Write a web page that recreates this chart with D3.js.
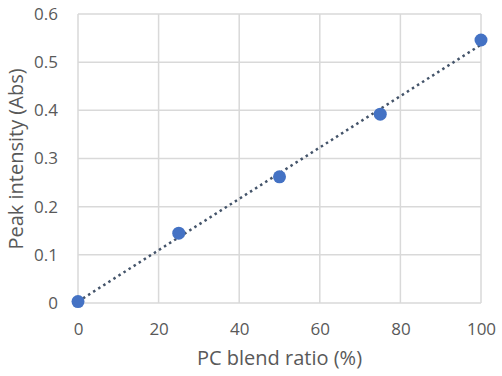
<!DOCTYPE html>
<html>
<head>
<meta charset="utf-8">
<script src="https://cdn.jsdelivr.net/npm/d3@7"></script>
<style>
  body { margin: 0; background: #fff; }
  svg text { font-family: "Open Sans", sans-serif; fill: #595959; }
</style>
</head>
<body>
<svg width="502" height="376"></svg>
<script>
const blendRatio = [0, 25, 50, 75, 100];
const peakIntensity = [0.003, 0.145, 0.262, 0.392, 0.546];
const xTicks = [0, 20, 40, 60, 80, 100];
const yTicks = [0, 0.1, 0.2, 0.3, 0.4, 0.5, 0.6];

const svg = d3.select('svg');
const plotLeft = 78, plotRight = 481, plotTop = 14, plotBottom = 303;
const pointColor = '#4472c4';
const lineColor = '#44546a';
const gridColor = '#d9d9d9';

const xScale = d3.scaleLinear().domain([0, 100]).range([plotLeft, plotRight]);
const yScale = d3.scaleLinear().domain([0, 0.6]).range([plotBottom, plotTop]);

// gridlines
svg.append('g')
  .selectAll('line')
  .data(yTicks)
  .enter()
  .append('line')
  .attr('x1', plotLeft)
  .attr('x2', plotRight)
  .attr('y1', d => yScale(d))
  .attr('y2', d => yScale(d))
  .attr('stroke', gridColor)
  .attr('stroke-width', 1.5);

svg.append('g')
  .selectAll('line')
  .data(xTicks)
  .enter()
  .append('line')
  .attr('x1', d => xScale(d))
  .attr('x2', d => xScale(d))
  .attr('y1', plotTop)
  .attr('y2', plotBottom)
  .attr('stroke', gridColor)
  .attr('stroke-width', 1.5);

// axis labels only, no domain lines
const yAxis = d3.axisLeft(yScale).tickValues(yTicks).tickSize(0).tickPadding(20)
  .tickFormat(d => d === 0 ? '0' : d3.format('.1f')(d));
const xAxis = d3.axisBottom(xScale).tickValues(xTicks).tickSize(0).tickPadding(20)
  .tickFormat(d3.format('d'));

svg.append('g')
  .attr('transform', 'translate(' + plotLeft + ',0)')
  .call(yAxis)
  .call(g => g.select('.domain').remove())
  .selectAll('text')
  .style('font-size', '17px')
  .attr('fill', '#595959');

svg.append('g')
  .attr('transform', 'translate(0,' + plotBottom + ')')
  .call(xAxis)
  .call(g => g.select('.domain').remove())
  .selectAll('text')
  .style('font-size', '17px')
  .attr('fill', '#595959');

// linear trendline from least squares
const mx = d3.mean(blendRatio), my = d3.mean(peakIntensity);
let sxy = 0, sxx = 0;
blendRatio.forEach((x, i) => {
  sxy += (x - mx) * (peakIntensity[i] - my);
  sxx += (x - mx) * (x - mx);
});
const slope = sxy / sxx;
const intercept = my - slope * mx;

svg.append('line')
  .attr('x1', xScale(0))
  .attr('y1', yScale(intercept))
  .attr('x2', xScale(100))
  .attr('y2', yScale(intercept + slope * 100))
  .attr('stroke', lineColor)
  .attr('stroke-width', 2.5)
  .attr('stroke-dasharray', '2.5 3.5');

svg.selectAll('circle')
  .data(blendRatio)
  .enter()
  .append('circle')
  .attr('cx', d => xScale(d))
  .attr('cy', (d, i) => yScale(peakIntensity[i]))
  .attr('r', 6.5)
  .attr('fill', pointColor);

svg.append('text')
  .attr('x', (plotLeft + plotRight) / 2)
  .attr('y', 365)
  .attr('text-anchor', 'middle')
  .style('font-size', '20px')
  .text('PC blend ratio (%)');

svg.append('text')
  .attr('transform', 'translate(23,159) rotate(-90)')
  .attr('text-anchor', 'middle')
  .style('font-size', '20px')
  .text('Peak intensity (Abs)');
</script>
</body>
</html>
